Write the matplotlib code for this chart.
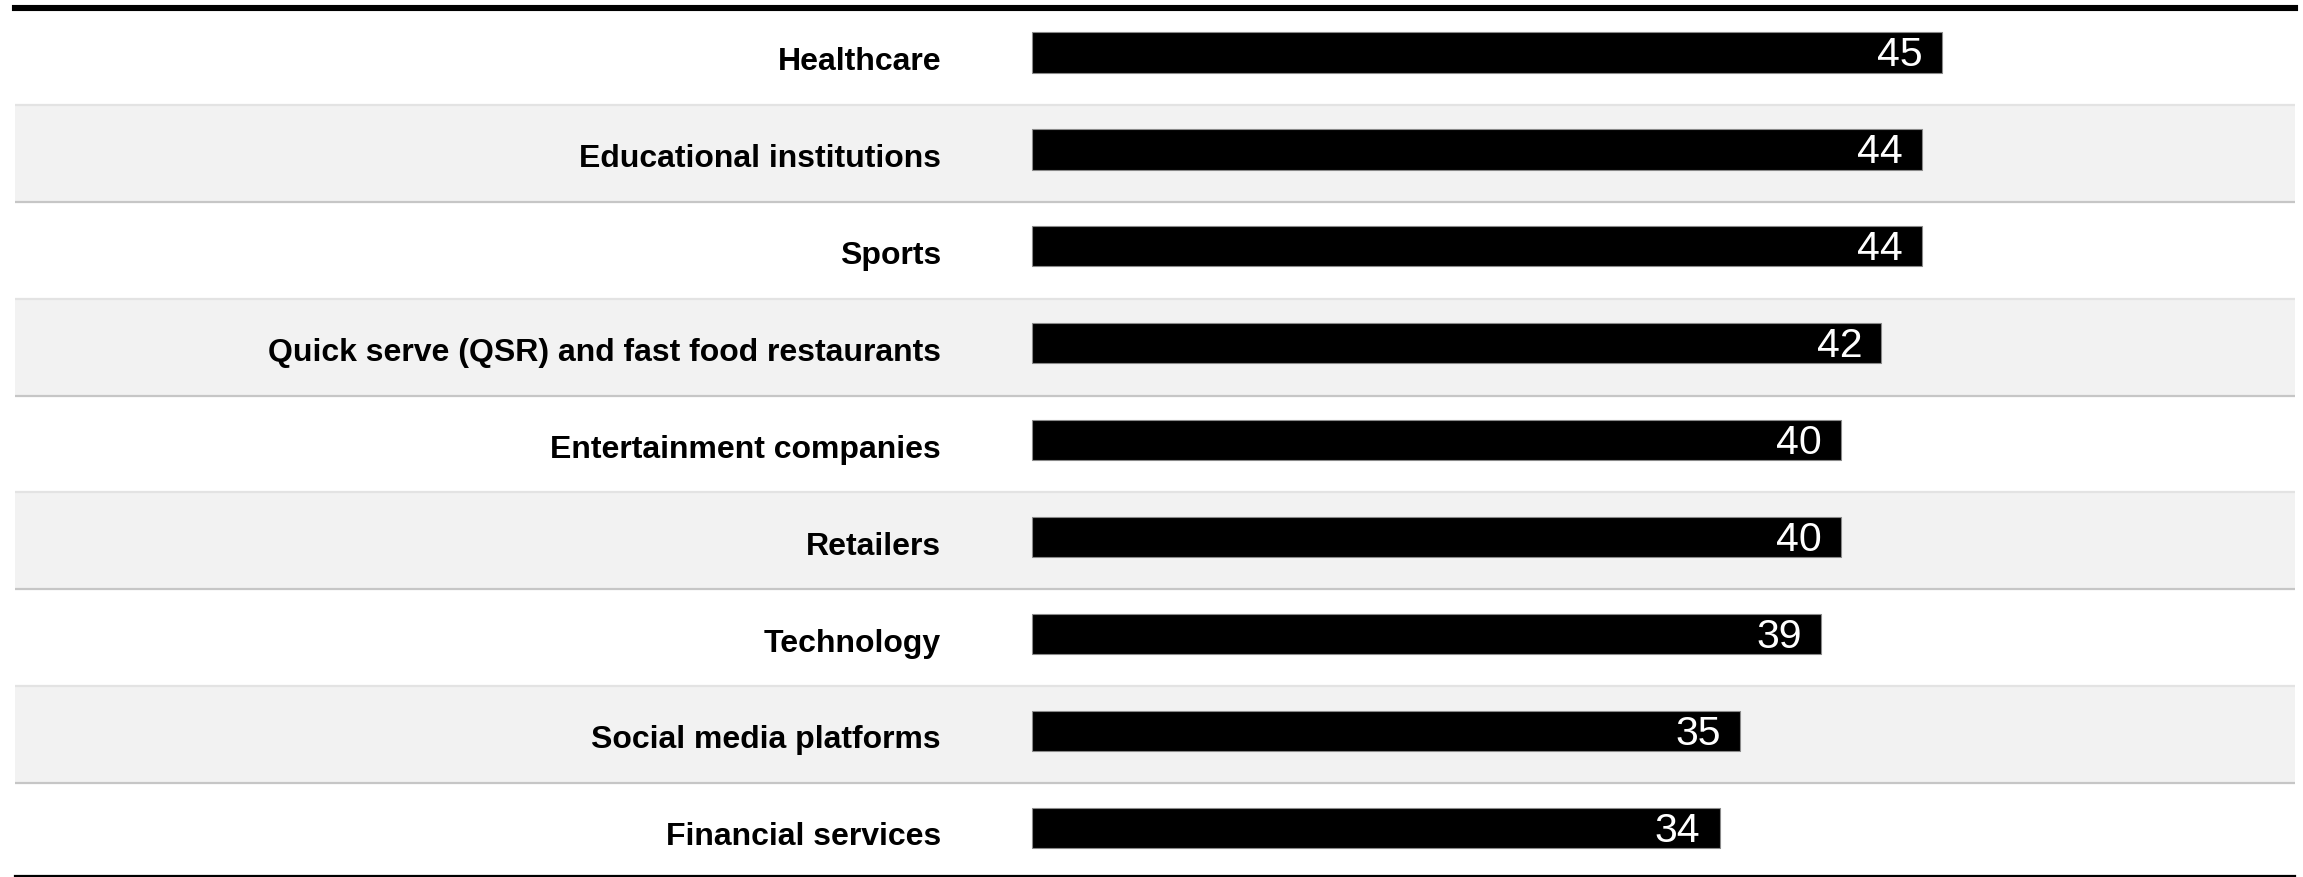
import matplotlib
matplotlib.use("Agg")
import matplotlib.pyplot as plt
from matplotlib.lines import Line2D

plt.rcParams['font.family'] = ['Liberation Sans', 'DejaVu Sans']

categories = [
    "Healthcare",
    "Educational institutions",
    "Sports",
    "Quick serve (QSR) and fast food restaurants",
    "Entertainment companies",
    "Retailers",
    "Technology",
    "Social media platforms",
    "Financial services",
]
values = [45, 44, 44, 42, 40, 40, 39, 35, 34]

W, H = 2303, 877
fig = plt.figure(figsize=(W / 100, H / 100), dpi=100)

# axes spans the whole table; the last row runs slightly past the bottom edge
left_px, right_px, top_px, bottom_px = 15, 2295, 8, 880
ax = fig.add_axes([left_px / W, (H - bottom_px) / H,
                   (right_px - left_px) / W, (bottom_px - top_px) / H])

# bars start at pixel 1032; 45 reaches pixel 1942
ppu = (1942 - 1032) / 45
ax.set_xlim(-(1032 - left_px) / ppu, (right_px - 1032) / ppu)
n = len(categories)
ax.set_ylim(n - 0.5, -0.5)

# alternating row bands and row separators
for i in range(n):
    if i % 2 == 1:
        ax.axhspan(i - 0.5, i + 0.5, color="#f2f2f2", zorder=0, lw=0)
for i in range(1, n):
    col = "#c6c6c6" if i % 2 == 0 else "#e3e3e3"
    ax.axhline(i - 0.5, color=col, lw=1.6, zorder=1)

ypos = [i - 0.04 for i in range(n)]
ax.barh(ypos, values, height=0.415, color="black",
        edgecolor="#8a8a8a", linewidth=0.8, zorder=2)

pad = 19 / ppu
label_x = -(1032 - 941) / ppu
for i, (cat, v) in enumerate(zip(categories, values)):
    ax.text(v - pad, ypos[i] + 0.03, f"{v}", color="white", fontsize=29.5,
            ha="right", va="center", zorder=3)
    ax.text(label_x, i + 0.06, cat, color="black", fontsize=23.0,
            fontweight="bold", ha="right", va="center", zorder=3)

# heavy top rule, thin bottom rule
ax.axhline(-0.5, color="black", lw=4.4, zorder=4, clip_on=False)
y_bot = 1 - 875.5 / H
fig.add_artist(Line2D([left_px / W, right_px / W], [y_bot, y_bot],
                      color="black", lw=1.6, zorder=5))

for s in ax.spines.values():
    s.set_visible(False)
ax.set_xticks([])
ax.set_yticks([])

fig.savefig("out.png", dpi=100, facecolor="white")
